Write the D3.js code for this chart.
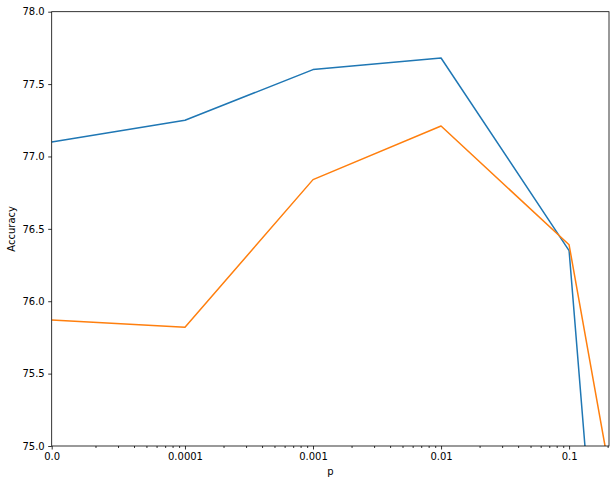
<!DOCTYPE html>
<html>
<head>
<meta charset="utf-8">
<script src="https://cdn.jsdelivr.net/npm/d3@7"></script>
<style>
	html, body { margin: 0; padding: 0; background: #fff; }
	svg { display: block; font-family: "DejaVu Sans", sans-serif; }
</style>
</head>
<body>
<div id="chart"></div>
<script>
/* p values; "0.0" is drawn at the left edge of the log axis */
const pValues = [9.1e-6, 1e-4, 1e-3, 1e-2, 1e-1, 0.2];
const pTickLabels = ["0.0", "0.0001", "0.001", "0.01", "0.1"];
const seriesA = [77.10, 77.25, 77.60, 77.68, 76.35, 73.07];
const seriesB = [75.87, 75.82, 76.84, 77.21, 76.39, 74.90];
const yTicks = [75.0, 75.5, 76.0, 76.5, 77.0, 77.5, 78.0];

const width = 615, height = 484;
const margin = {top: 11.7, right: 6, bottom: 38, left: 51.7};

const svg = d3.select("#chart")
	.append("svg")
	.attr("width", width)
	.attr("height", height);

const x = d3.scaleLog()
	.domain([pValues[0], 0.205])
	.range([margin.left, width - margin.right]);

const y = d3.scaleLinear()
	.domain([75, 78])
	.range([height - margin.bottom, margin.top]);

/* clip lines to the axes box */
svg.append("clipPath")
	.attr("id", "plot-area")
	.append("rect")
	.attr("x", margin.left)
	.attr("y", margin.top)
	.attr("width", width - margin.left - margin.right)
	.attr("height", height - margin.top - margin.bottom);

const line = d3.line()
	.x((d, i) => x(pValues[i]))
	.y((d) => y(d));

const lines = svg.append("g").attr("clip-path", "url(#plot-area)");
[[seriesA, "#1f77b4"], [seriesB, "#ff7f0e"]].forEach(([data, color]) => {
	lines.append("path")
		.datum(data)
		.attr("fill", "none")
		.attr("stroke", color)
		.attr("stroke-width", 1.5)
		.attr("stroke-linejoin", "round")
		.attr("d", line);
});

/* x axis: labelled major ticks + log minor ticks */
const majorTicks = pValues.slice(0, 5);
const minorTicks = [];
[-5, -4, -3, -2, -1].forEach((e) => {
	for (let k = 2; k <= 9; k++) {
		const v = k * Math.pow(10, e);
		if (v > x.domain()[0] && v < x.domain()[1]) minorTicks.push(v);
	}
});

const xAxis = svg.append("g")
	.attr("transform", `translate(0,${height - margin.bottom})`)
	.call(d3.axisBottom(x)
		.tickValues(majorTicks)
		.tickFormat((d, i) => pTickLabels[i])
		.tickSize(3.5)
		.tickPadding(3.5));

svg.append("g")
	.attr("transform", `translate(0,${height - margin.bottom})`)
	.call(d3.axisBottom(x).tickValues(minorTicks).tickFormat("").tickSize(2))
	.call((g) => g.select(".domain").remove());

const yAxis = svg.append("g")
	.attr("transform", `translate(${margin.left},0)`)
	.call(d3.axisLeft(y)
		.tickValues(yTicks)
		.tickFormat(d3.format(".1f"))
		.tickSize(3.5)
		.tickPadding(3.5));

svg.selectAll(".tick text")
	.attr("font-size", 10)
	.attr("font-family", "DejaVu Sans, sans-serif")
	.attr("fill", "#000");
svg.selectAll(".tick line").attr("stroke", "#000").attr("stroke-width", 0.8);

/* remaining spines */
svg.selectAll(".domain").remove();
svg.append("rect")
	.attr("x", margin.left)
	.attr("y", margin.top)
	.attr("width", width - margin.left - margin.right)
	.attr("height", height - margin.top - margin.bottom)
	.attr("fill", "none")
	.attr("stroke", "#000")
	.attr("stroke-width", 0.8);

/* axis labels */
svg.append("text")
	.attr("x", (margin.left + width - margin.right) / 2)
	.attr("y", height - 9)
	.attr("text-anchor", "middle")
	.attr("font-size", 10)
	.text("p");

svg.append("text")
	.attr("transform", `translate(15,${(margin.top + height - margin.bottom) / 2}) rotate(-90)`)
	.attr("text-anchor", "middle")
	.attr("font-size", 10)
	.text("Accuracy");
</script>
</body>
</html>
